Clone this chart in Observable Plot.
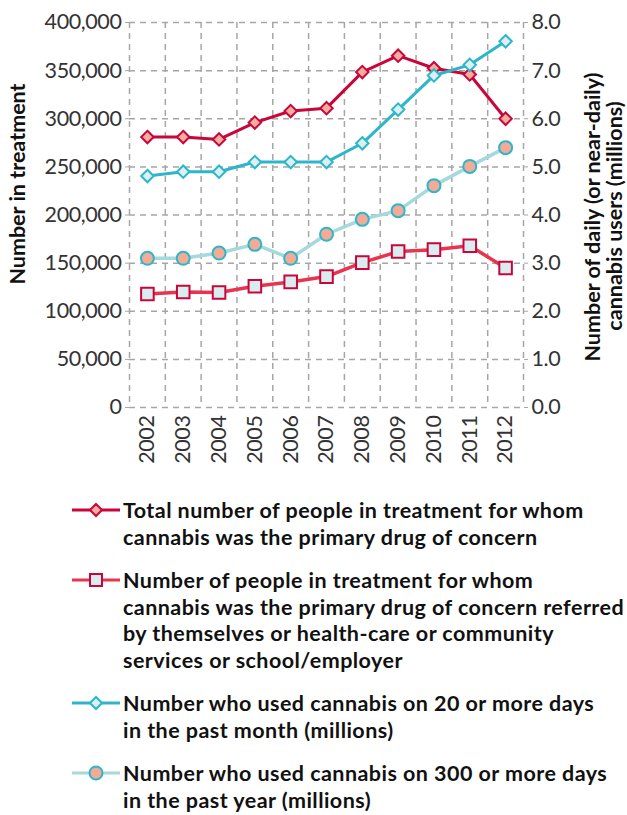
<!DOCTYPE html>
<html><head><meta charset="utf-8">
<script src="https://cdn.jsdelivr.net/npm/d3@7"></script>
<script src="https://cdn.jsdelivr.net/npm/@observablehq/plot@0.6"></script>
<style>
body{margin:0;background:#fff;font-family:Lato,"Open Sans",sans-serif;overflow:hidden;}
#wrap{width:627px;}
.legend{margin-top:19px;}
.item{display:flex;align-items:flex-start;margin-left:72px;margin-bottom:17px;}
.item:last-child{margin-bottom:0;}
.item svg{flex:none;margin-top:0px;}
.item span{font-weight:700;font-size:21.5px;letter-spacing:0.45px;line-height:26.5px;color:#111;margin-left:3px;white-space:pre;}
.tk text{letter-spacing:-0.4px;}
</style></head>
<body><div id="wrap"><div id="chart"></div><div class="legend" id="legend"></div></div>
<script>
const years = [2002,2003,2004,2005,2006,2007,2008,2009,2010,2011,2012];
const totalTreatment = [281000,281000,278500,296000,308000,311000,348500,365500,352500,346000,300000];
const referredTreatment = [118000,120000,119500,126000,130500,136000,150500,162000,164000,168000,145000];
const users20Days = [4.81,4.90,4.90,5.10,5.10,5.10,5.49,6.19,6.90,7.12,7.61];
const users300Days = [3.10,3.10,3.21,3.39,3.10,3.60,3.91,4.09,4.61,5.01,5.40];
const leftTicks = [0,50000,100000,150000,200000,250000,300000,350000,400000];
const seriesNames = [
  "Total number of people in treatment for whom\ncannabis was the primary drug of concern",
  "Number of people in treatment for whom\ncannabis was the primary drug of concern referred\nby themselves or health-care or community\nservices or school/employer",
  "Number who used cannabis on 20 or more days\nin the past month (millions)",
  "Number who used cannabis on 300 or more days\nin the past year (millions)"
];
const leftTitle = "Number in treatment";
const rightTitle = ["Number of daily (or near-daily)", "cannabis users (millions)"];
const scaleFactor = 50000; // 1.0 million on right axis == 50,000 on left axis

const boundaries = d3.range(years[0]-0.5, years[years.length-1]+1, 1);
const rows = (vals, k=1) => years.map((y,i)=>({year:y, value:vals[i]*k}));
const dTotal = rows(totalTreatment), dRef = rows(referredTreatment);
const d20 = rows(users20Days, scaleFactor), d300 = rows(users300Days, scaleFactor);

const C = {
  total:"#c8063a", totalFill:"#f4ad9e",
  ref:"#e8344e", refFill:"#d9edf1",
  u20:"#2db6c9", u20Fill:"#dcf0f4",
  u300:"#a5d9db", u300Fill:"#f3ab98", u300Stroke:"#2db6c9"
};
const grid = "#a6a6a6";
const titleStyle = {rotate:-90, fontWeight:700, fontSize:21.5, fill:"#111", textAnchor:"middle", lineAnchor:"middle", style:"letter-spacing:0.45px"};
const tickStyle = {fontWeight:400, fontSize:21.5, fill:"#333", className:"tk"};

const chart = Plot.plot({
  width:627, height:478,
  marginLeft:129, marginRight:104, marginTop:22, marginBottom:71,
  style:{fontFamily:"Lato, 'Open Sans', sans-serif", fontSize:"21.5px", color:"#333", background:"#fff"},
  x:{type:"linear", domain:[years[0]-0.5, years[years.length-1]+0.5]},
  y:{domain:[0,400000]},
  marks:[
    Plot.gridX(boundaries, {stroke:grid, strokeOpacity:1, strokeWidth:1.5, strokeDasharray:"6,5"}),
    Plot.gridY(leftTicks, {stroke:grid, strokeOpacity:1, strokeWidth:1.5, strokeDasharray:"6,5"}),
    Plot.axisY(leftTicks, {anchor:"left", tickSize:4, stroke:grid, tickPadding:4, tickFormat:d3.format(","), label:null, ...tickStyle}),
    Plot.axisY(leftTicks, {anchor:"right", tickSize:4, stroke:grid, tickPadding:4, tickFormat:d=>(d/scaleFactor).toFixed(1), label:null, ...tickStyle}),
    Plot.axisX(years, {anchor:"bottom", tickSize:0, tickPadding:8, tickRotate:-90, tickFormat:d=>String(d), label:null, ...tickStyle}),
    Plot.lineY(dTotal, {x:"year", y:"value", stroke:C.total, strokeWidth:3}),
    Plot.dot(dTotal, {x:"year", y:"value", symbol:"diamond2", r:5.6, fill:C.totalFill, stroke:C.total, strokeWidth:2}),
    Plot.lineY(dRef, {x:"year", y:"value", stroke:C.ref, strokeWidth:3.5}),
    Plot.dot(dRef, {x:"year", y:"value", symbol:"square2", r:8, fill:C.refFill, stroke:C.total, strokeWidth:2}),
    Plot.lineY(d20, {x:"year", y:"value", stroke:C.u20, strokeWidth:3}),
    Plot.dot(d20, {x:"year", y:"value", symbol:"diamond2", r:5.6, fill:C.u20Fill, stroke:C.u20, strokeWidth:2}),
    Plot.lineY(d300, {x:"year", y:"value", stroke:C.u300, strokeWidth:3.5}),
    Plot.dot(d300, {x:"year", y:"value", symbol:"circle", r:6.5, fill:C.u300Fill, stroke:C.u300Stroke, strokeWidth:2}),
    Plot.text([leftTitle], {frameAnchor:"left", dx:-111, dy:-31, ...titleStyle}),
    Plot.text([rightTitle[0]], {frameAnchor:"right", dx:70, dy:2, ...titleStyle}),
    Plot.text([rightTitle[1]], {frameAnchor:"right", dx:92, dy:1, ...titleStyle})
  ]
});
document.getElementById("chart").appendChild(chart);

// legend
const legendSpecs = [
  {line:C.total, fill:C.totalFill, stroke:C.total, shape:"diamond"},
  {line:C.ref, fill:C.refFill, stroke:C.total, shape:"square"},
  {line:C.u20, fill:C.u20Fill, stroke:C.u20, shape:"diamond"},
  {line:C.u300, fill:C.u300Fill, stroke:C.u300Stroke, shape:"circle"}
];
const leg = d3.select("#legend");
legendSpecs.forEach((s,i)=>{
  const it = leg.append("div").attr("class","item");
  const svg = it.append("svg").attr("width",48).attr("height",26);
  svg.append("line").attr("x1",0).attr("x2",48).attr("y1",13).attr("y2",13).attr("stroke",s.line).attr("stroke-width",3);
  if(s.shape==="diamond") svg.append("path").attr("d","M24,7L30,13L24,19L18,13Z").attr("fill",s.fill).attr("stroke",s.stroke).attr("stroke-width",2);
  if(s.shape==="square") svg.append("rect").attr("x",18).attr("y",7).attr("width",12).attr("height",12).attr("fill",s.fill).attr("stroke",s.stroke).attr("stroke-width",2);
  if(s.shape==="circle") svg.append("circle").attr("cx",24).attr("cy",13).attr("r",6.5).attr("fill",s.fill).attr("stroke",s.stroke).attr("stroke-width",2);
  it.append("span").text(seriesNames[i]);
});
</script></body></html>
